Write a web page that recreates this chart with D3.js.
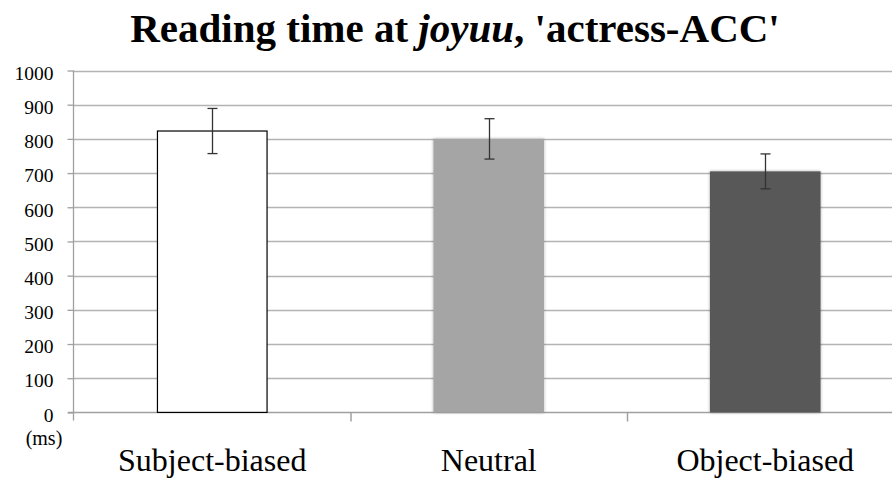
<!DOCTYPE html>
<html>
<head>
<meta charset="utf-8">
<script src="https://cdn.jsdelivr.net/npm/d3@7"></script>
<style>
  body { margin: 0; background: #fff; }
  svg { display: block; }
</style>
</head>
<body>
<svg id="chart" width="892" height="481"></svg>
<script>
// Reading times per condition (ms) with error bar half-widths
const categories = ["Subject-biased", "Neutral", "Object-biased"];
const meanRT = [823, 800, 705];
const errorRT = [66, 59, 51];
const barColors = ["#ffffff", "#a5a5a5", "#595959"];
const yTicks = [0, 100, 200, 300, 400, 500, 600, 700, 800, 900, 1000];

// pick the first installed serif face
function pickSerif() {
  const ctx = document.createElement("canvas").getContext("2d");
  const probe = "Subject-biased Reading 0123456789 mmmWWWiii";
  const widthIn = f => { ctx.font = `40px ${f}`; return ctx.measureText(probe).width; };
  const base = widthIn("monospace");
  const cands = ["'Liberation Serif'", "Tinos", "'Times New Roman'", "Times", "'DejaVu Serif'", "'Noto Serif'"];
  for (const c of cands) {
    const w1 = widthIn(`${c}, monospace`), w2 = widthIn(`${c}, sans-serif`);
    if (Math.abs(w1 - w2) < 0.01 && Math.abs(w1 - base) > 0.5) return `${c}, serif`;
  }
  return "'Liberation Serif', 'Times New Roman', serif";
}
const SERIF = pickSerif();

const svg = d3.select("#chart").style("font-family", SERIF);

const x = d3.scaleBand().domain(categories).range([74, 903.5]).paddingInner(0).paddingOuter(0);
const y = d3.scaleLinear().domain([0, 1000]).range([412.4, 70.5]);

// soft shadow for filled bars
const defs = svg.append("defs");
const f = defs.append("filter").attr("id", "soft").attr("x", "-10%").attr("y", "-10%").attr("width", "120%").attr("height", "120%");
f.append("feDropShadow").attr("dx", 0).attr("dy", 0).attr("stdDeviation", 1.6)
  .attr("flood-color", "#000").attr("flood-opacity", 0.35);

// title
const title = svg.append("text")
  .attr("x", 455).attr("y", 42)
  .attr("text-anchor", "middle")
  .style("font-family", SERIF)
  .attr("font-size", 41).attr("font-weight", "bold").attr("fill", "#000");
title.append("tspan").text("Reading time at ");
title.append("tspan").attr("font-style", "italic").text("joyuu");
title.append("tspan").text(", 'actress-ACC'");

// gridlines
svg.append("g").selectAll("line").data(yTicks.filter(d => d > 0)).join("line")
  .attr("x1", 74).attr("x2", 892)
  .attr("y1", d => Math.round(y(d)) + 0.5).attr("y2", d => Math.round(y(d)) + 0.5)
  .attr("stroke", "#b3b3b3").attr("stroke-width", 1.3);

// y axis
const yAxis = d3.axisLeft(y).tickValues(yTicks).tickSize(6).tickPadding(14).tickFormat(d3.format("d"));
const gy = svg.append("g").attr("transform", "translate(73.5,0)").call(yAxis)
  .attr("font-family", null).style("font-family", SERIF);
gy.select(".domain").attr("stroke", "#a0a0a0").attr("stroke-width", 1.3)
  .attr("d", `M0,${y(1000)}V${y(0) + 8}`);
gy.selectAll(".tick line").attr("stroke", "#a0a0a0").attr("stroke-width", 1.3);
gy.selectAll(".tick text").attr("font-size", 19.5).attr("fill", "#000").attr("dy", "0.45em")
  .style("font-family", SERIF);

// x axis
const xAxis = d3.axisBottom(d3.scaleLinear().domain([0, 3]).range([74, 903.5]))
  .tickValues([1, 2]).tickSize(9).tickFormat("");
const gx = svg.append("g").attr("transform", `translate(0,${Math.round(y(0)) + 0.5})`).call(xAxis);
gx.select(".domain").attr("stroke", "#a0a0a0").attr("stroke-width", 1.5).attr("d", "M68,0H892");
gx.selectAll(".tick line").attr("stroke", "#a0a0a0").attr("stroke-width", 1.5);

// category labels
svg.append("g").selectAll("text").data(categories).join("text")
  .attr("x", d => x(d) + x.bandwidth() / 2)
  .attr("y", 471)
  .attr("text-anchor", "middle")
  .style("font-family", SERIF)
  .attr("font-size", 32).attr("fill", "#000")
  .text(d => d);

// unit label
svg.append("text").attr("x", 44).attr("y", 445).attr("text-anchor", "middle")
  .style("font-family", SERIF)
  .attr("font-size", 20).attr("fill", "#000").text("(ms)");

// bars
const barW = x.bandwidth() * 0.4;
const data = categories.map((c, i) => ({ c, v: meanRT[i], e: errorRT[i], col: barColors[i], i }));
svg.append("g").selectAll("rect").data(data).join("rect")
  .attr("x", d => x(d.c) + (x.bandwidth() - barW) / 2 + (d.i === 0 ? 0.5 : 0))
  .attr("y", d => y(d.v))
  .attr("width", d => d.i === 0 ? barW - 1 : barW)
  .attr("height", d => y(0) - y(d.v))
  .attr("fill", d => d.col)
  .attr("stroke", d => d.i === 0 ? "#000" : "none")
  .attr("stroke-width", 1.2)
  .attr("filter", d => d.i === 0 ? null : "url(#soft)");

// error bars
const eg = svg.append("g").attr("stroke", "#333").attr("stroke-width", 1.3);
data.forEach(d => {
  const cx = Math.round(x(d.c) + x.bandwidth() / 2) + 0.5;
  eg.append("line").attr("x1", cx).attr("x2", cx).attr("y1", y(d.v + d.e)).attr("y2", y(d.v - d.e));
  eg.append("line").attr("x1", cx - 5).attr("x2", cx + 5).attr("y1", y(d.v + d.e)).attr("y2", y(d.v + d.e));
  eg.append("line").attr("x1", cx - 5).attr("x2", cx + 5).attr("y1", y(d.v - d.e)).attr("y2", y(d.v - d.e));
});
</script>
</body>
</html>
